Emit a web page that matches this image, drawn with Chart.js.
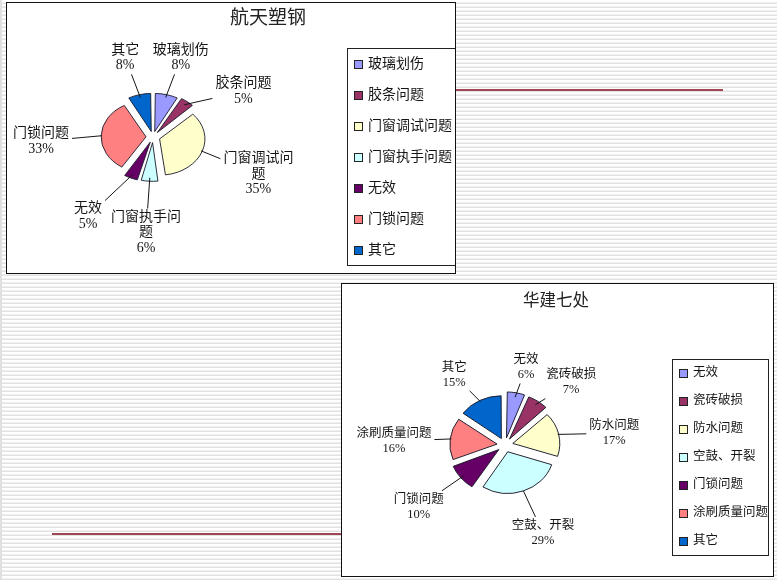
<!DOCTYPE html>
<html lang="zh">
<head>
<meta charset="UTF-8">
<title>航天塑钢 / 华建七处</title>
<script src="https://cdn.jsdelivr.net/npm/chart.js@4.4.0/dist/chart.umd.min.js"></script>
<style>
  html, body { margin: 0; padding: 0; }
  body {
    width: 777px; height: 580px; overflow: hidden; position: relative;
    background: repeating-linear-gradient(to bottom, #ffffff 0px, #ffffff 2px, #f0f0f0 2px, #f0f0f0 3px, #e2e2e2 3px, #e2e2e2 4px);
  }
  .edge { position: absolute; left: 0; top: 0; width: 2px; height: 580px; background: #e0e0e0; }
  .redline { position: absolute; height: 2px; background: #a04858; }
  .panel { position: absolute; background: #fff; border: 1px solid #111; }
  .panel canvas { display: block; }
</style>
</head>
<body>
<div class="edge"></div>
<div class="redline" style="left:455px; top:89px; width:268px;"></div>
<div class="redline" style="left:52px; top:533px; width:290px;"></div>

<div class="panel" style="left:6px; top:2px; width:448px; height:270px;">
  <canvas id="chartA" width="448" height="270"></canvas>
</div>
<div class="panel" style="left:341px; top:283px; width:431px; height:292px;">
  <canvas id="chartB" width="431" height="292"></canvas>
</div>

<script>
// ---- data ----
const titleA = '航天塑钢';
const labelsA = ['玻璃划伤', '胶条问题', '门窗调试问题', '门窗执手问题', '无效', '门锁问题', '其它'];
const valuesA = [8, 5, 35, 6, 5, 33, 8];

const titleB = '华建七处';
const labelsB = ['无效', '瓷砖破损', '防水问题', '空鼓、开裂', '门锁问题', '涂刷质量问题', '其它'];
const valuesB = [6, 7, 17, 29, 10, 16, 15];

const palette = ['#9999ff', '#993366', '#ffffcc', '#ccffff', '#660066', '#ff8080', '#0066cc'];

const FONT = '"Liberation Serif", "Noto Sans CJK SC", serif';
const INK = '#151515';

// break a label into lines no wider than maxW
function wrapText(ctx, text, maxW) {
  const lines = [];
  let line = '';
  for (const ch of text) {
    if (line && ctx.measureText(line + ch).width > maxW) {
      lines.push(line);
      line = ch;
    } else {
      line += ch;
    }
  }
  if (line) lines.push(line);
  return lines;
}

function angleDiff(a, b) {
  let d = a - b;
  while (d > Math.PI) d -= 2 * Math.PI;
  while (d < -Math.PI) d += 2 * Math.PI;
  return d;
}

// squashed (3d-ish) pie + outside labels with leader lines + boxed legend + title
const excelPie = {
  id: 'excelPie',
  beforeDatasetsDraw(chart, args, opts) {
    const arc = chart.getDatasetMeta(0).data[0];
    const ctx = chart.ctx;
    ctx.save();
    ctx.translate(arc.x, arc.y);
    ctx.scale(1, opts.squash);
    ctx.translate(-arc.x, -arc.y);
  },
  afterDatasetsDraw(chart) {
    chart.ctx.restore();
  },
  afterDraw(chart, args, opts) {
    const ctx = chart.ctx;
    const meta = chart.getDatasetMeta(0);
    const ds = chart.data.datasets[0];
    const total = ds.data.reduce((a, b) => a + b, 0);

    ctx.save();
    // title
    ctx.fillStyle = '#222';
    ctx.font = opts.titleSize + 'px ' + FONT;
    ctx.textAlign = 'center';
    ctx.textBaseline = 'middle';
    ctx.fillText(opts.title, opts.titleX, opts.titleY);

    // data labels
    ctx.font = opts.fontSize + 'px ' + FONT;
    ctx.lineWidth = 1;
    ctx.strokeStyle = INK;
    const placed = [];
    meta.data.forEach((arc, i) => {
      const p = arc.getProps(['x', 'y', 'startAngle', 'endAngle', 'outerRadius'], true);
      const mid = (p.startAngle + p.endAngle) / 2;
      const ex = p.x + Math.cos(mid) * (p.outerRadius + opts.explode);
      const ey = p.y + Math.sin(mid) * (p.outerRadius + opts.explode) * opts.squash;

      const lines = wrapText(ctx, chart.data.labels[i], opts.wrap);
      lines.push(Math.round(ds.data[i] / total * 100) + '%');
      const w = Math.max(...lines.map(l => ctx.measureText(l).width));
      const h = lines.length * opts.lineHeight;

      // place on an ellipse round the pie, turn away from labels already placed
      let a = mid, lx, ly, guard = 0;
      for (;;) {
        lx = p.x + Math.cos(a) * opts.labelRx;
        ly = p.y + opts.labelDy + Math.sin(a) * opts.labelRy;
        const hit = placed.find(b =>
          Math.abs(b.x - lx) < (b.w + w) / 2 + 6 && Math.abs(b.y - ly) < (b.h + h) / 2 + 2);
        if (!hit || guard++ > 60) break;
        a += (angleDiff(a, hit.a) >= 0 ? 1 : -1) * Math.PI / 90;
      }
      placed.push({x: lx, y: ly, w, h, a});

      // leader line from slice edge to label box
      const dx = lx - ex, dy = ly - ey;
      const tx = (w / 2 + 3) / Math.max(Math.abs(dx), 1e-6);
      const ty = (h / 2 + 1) / Math.max(Math.abs(dy), 1e-6);
      const t = Math.min(tx, ty);
      if (t < 1) {
        ctx.beginPath();
        ctx.moveTo(ex, ey);
        ctx.lineTo(lx - dx * t, ly - dy * t);
        ctx.stroke();
      }

      ctx.fillStyle = INK;
      ctx.textAlign = 'center';
      ctx.textBaseline = 'middle';
      lines.forEach((l, k) => {
        ctx.fillText(l, lx, ly - h / 2 + opts.lineHeight * (k + 0.5));
      });
    });

    // legend
    const lg = opts.legend;
    const n = chart.data.labels.length;
    const rowH = lg.h / n;
    ctx.strokeStyle = '#222';
    ctx.strokeRect(lg.x + 0.5, lg.y + 0.5, lg.w, lg.h);
    ctx.textAlign = 'left';
    chart.data.labels.forEach((t, i) => {
      const cy = Math.round(lg.y + rowH * (i + 0.5));
      ctx.fillStyle = palette[i];
      ctx.fillRect(lg.x + lg.pad + 0.5, cy - 4 + 0.5, 8, 8);
      ctx.strokeRect(lg.x + lg.pad + 0.5, cy - 4 + 0.5, 8, 8);
      ctx.fillStyle = INK;
      ctx.fillText(t, lg.x + lg.pad + 14, cy);
    });
    ctx.restore();
  }
};

function makePie(id, labels, values, pad, radius, explode, pieOpts) {
  return new Chart(document.getElementById(id), {
    type: 'pie',
    data: {
      labels: labels,
      datasets: [{
        data: values,
        backgroundColor: palette,
        borderColor: '#1a1a2a',
        borderWidth: 1,
        offset: explode * 4,
        radius: radius
      }]
    },
    options: {
      responsive: false,
      animation: false,
      events: [],
      layout: { padding: pad },
      plugins: {
        legend: { display: false },
        title: { display: false },
        tooltip: { enabled: false },
        excelPie: Object.assign({ explode: explode }, pieOpts)
      }
    },
    plugins: [excelPie]
  });
}

makePie('chartA', labelsA, valuesA,
  { left: 0, right: 156, top: 0, bottom: 2 }, 44, 7, {
    squash: 0.8, title: titleA, titleX: 261, titleY: 16, titleSize: 19,
    fontSize: 14, lineHeight: 15.5, wrap: 75, labelRx: 112, labelRy: 89, labelDy: 7,
    legend: { x: 340, y: 45, w: 112, h: 217, pad: 7 }
  });

makePie('chartB', labelsB, valuesB,
  { left: 0, right: 105, top: 30, bottom: 0 }, 46, 8, {
    squash: 0.9, title: titleB, titleX: 214, titleY: 18, titleSize: 16.5,
    fontSize: 12.5, lineHeight: 15, wrap: 90, labelRx: 112, labelRy: 86, labelDy: 7,
    legend: { x: 330, y: 75, w: 96, h: 196, pad: 7 }
  });
</script>
</body>
</html>
